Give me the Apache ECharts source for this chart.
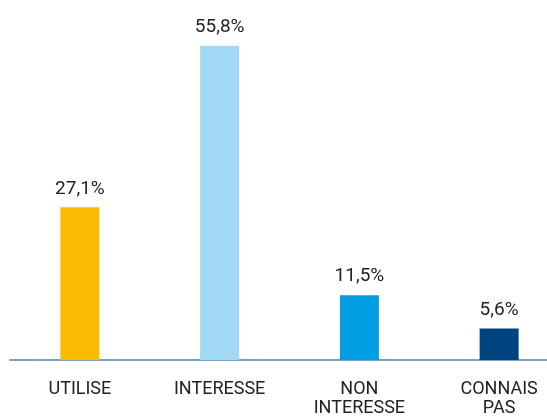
<!DOCTYPE html>
<html>
<head>
<meta charset="utf-8">
<script src="https://cdn.jsdelivr.net/npm/echarts@6/dist/echarts.min.js"></script>
<style>
  html, body { margin: 0; padding: 0; background: #fff; }
  #chart { width: 547px; height: 418px; }
</style>
</head>
<body>
<div id="chart"></div>
<script>
// Survey answers and their shares (%)
const categories = ['UTILISE', 'INTERESSE', 'NON\nINTERESSE', 'CONNAIS\nPAS'];
const shares = [27.1, 55.8, 11.5, 5.6];
const barColors = ['#FBBA00', '#A1D9F5', '#009FE3', '#00447F'];

const chart = echarts.init(document.getElementById('chart'));
chart.setOption({
  animation: false,
  grid: { left: 10, top: 22, width: 559, height: 338, outerBoundsMode: 'none', containLabel: false },
  xAxis: {
    type: 'category',
    data: categories,
    axisTick: { show: false },
    axisLine: { lineStyle: { color: '#4F80B4', width: 1.5 } },
    axisLabel: {
      interval: 0,
      margin: 20,
      fontFamily: 'Roboto',
      fontSize: 18,
      lineHeight: 19,
      color: '#222'
    }
  },
  yAxis: {
    type: 'value',
    min: 0,
    max: 60,
    show: false,
    splitLine: { show: false }
  },
  series: [{
    type: 'bar',
    barWidth: 39,
    data: shares.map((v, i) => ({ value: v, itemStyle: { color: barColors[i] } })),
    label: {
      show: true,
      position: 'top',
      distance: 9,
      fontFamily: 'Roboto',
      fontSize: 19,
      color: '#222',
      formatter: p => String(p.value).replace('.', ',') + '%'
    }
  }]
});
</script>
</body>
</html>
